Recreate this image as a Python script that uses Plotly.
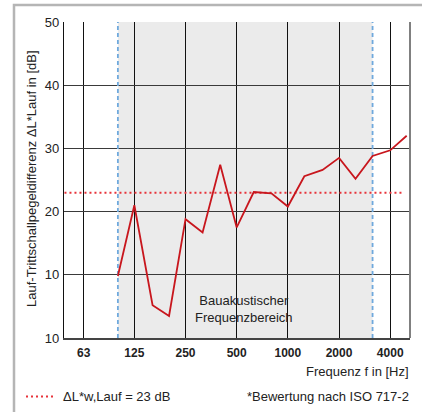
import math
import plotly.graph_objects as go

# Data
freqs = [100, 125, 160, 200, 250, 315, 400, 500, 630, 800, 1000, 1250, 1600, 2000, 2500, 3150, 4000, 5000]
delta_l = [9.8, 21.0, 5.2, 3.5, 18.8, 16.7, 27.4, 17.5, 23.1, 22.9, 20.8, 25.6, 26.6, 28.5, 25.2, 28.8, 29.7, 32.0]
ref_value = 23
ref_x = [48.5, 4760]
x_tickvals = [63, 125, 250, 500, 1000, 2000, 4000]
x_ticktext = ["63", "125", "250", "500", "1000", "2000", "4000"]
y_tickvals = [0, 10, 20, 30, 40, 50]
y_ticktext = ["10", "10", "20", "30", "40", "50"]
band_low, band_high = 100, 3150
band_label_freq = 555

FONT = "Liberation Sans, Arial, sans-serif"
W, H = 422, 412
PL, PR, PT, PB = 64, 410, 22, 338  # plot area in pixels


def fx(p):
    return p / W


def fy(p):
    return 1 - p / H


fig = go.Figure()

fig.add_trace(go.Scatter(x=ref_x, y=[ref_value, ref_value], mode="lines",
                         line=dict(color="#e8333a", width=2, dash="2px,3px"),
                         hoverinfo="skip", showlegend=False))
for f in (band_low, band_high):
    fig.add_trace(go.Scatter(x=[f, f], y=[0, 50], mode="lines",
                             line=dict(color="#6fa9dd", width=1.8, dash="4px,3px"),
                             hoverinfo="skip", showlegend=False))
fig.add_trace(go.Scatter(x=freqs, y=delta_l, mode="lines",
                         line=dict(color="#c8161d", width=1.8),
                         showlegend=False))

shapes = []
# outer light frame (only top and left edges fall inside the page)
shapes.append(dict(type="rect", xref="paper", yref="paper",
                   x0=fx(14), x1=1.1, y0=fy(5), y1=-0.1,
                   fillcolor="rgba(0,0,0,0)", line=dict(color="#b5b5b5", width=2.5),
                   layer="below"))
# shaded band (below grid)
shapes.append(dict(type="rect", xref="x", yref="paper",
                   x0=band_low, x1=band_high, y0=fy(PB), y1=fy(PT),
                   fillcolor="#ebebeb", line=dict(width=0), layer="below"))
# right frame
shapes.append(dict(type="line", xref="paper", yref="paper", x0=fx(PR), x1=fx(PR),
                   y0=fy(PB), y1=fy(PT), line=dict(color="#808080", width=2)))
# legend sample
shapes.append(dict(type="line", xref="paper", yref="paper",
                   x0=fx(26), x1=fx(55), y0=fy(396.5), y1=fy(396.5),
                   line=dict(color="#e8333a", width=2, dash="2px,3px")))

annotations = [
    dict(text="Bauakustischer<br>Frequenzbereich", xref="x", yref="y",
         x=math.log10(band_label_freq), y=4.6, showarrow=False,
         font=dict(family=FONT, size=13, color="#222"), align="center"),
    dict(text="Lauf-Trittschallpegeldifferenz ΔL*Lauf in [dB]", xref="paper", yref="paper",
         x=fx(32), y=fy(179), xanchor="center", yanchor="middle",
         textangle=-90, showarrow=False,
         font=dict(family=FONT, size=13, color="#222")),
    dict(text="Frequenz f in [Hz]", xref="paper", yref="paper",
         x=fx(411), y=fy(371), xanchor="right", yanchor="middle", showarrow=False,
         font=dict(family=FONT, size=13, color="#222")),
    dict(text="ΔL*w,Lauf = 23 dB", xref="paper", yref="paper",
         x=fx(61), y=fy(396.5), xanchor="left", yanchor="middle", showarrow=False,
         font=dict(family=FONT, size=13, color="#222")),
    dict(text="*Bewertung nach ISO 717-2", xref="paper", yref="paper",
         x=fx(411), y=fy(396.5), xanchor="right", yanchor="middle", showarrow=False,
         font=dict(family=FONT, size=13, color="#222")),
]

fig.update_layout(
    width=W, height=H,
    margin=dict(l=0, r=0, t=0, b=0, pad=0),
    paper_bgcolor="white", plot_bgcolor="white",
    shapes=shapes, annotations=annotations,
    showlegend=False,
    font=dict(family=FONT, color="#222"),
)
fig.update_xaxes(type="log", range=[math.log10(48.2), math.log10(5230)],
                 domain=[fx(PL), fx(PR)],
                 tickvals=x_tickvals, ticktext=x_ticktext,
                 showgrid=True, gridcolor="#111", gridwidth=1,
                 showline=True, linecolor="#444", linewidth=1.5,
                 ticks="", ticklabelstandoff=3, automargin=False,
                 tickfont=dict(family=FONT, size=12, color="#222", weight="bold"),
                 zeroline=False)
fig.update_yaxes(range=[0, 50], domain=[fy(PB), fy(PT)],
                 tickvals=y_tickvals, ticktext=y_ticktext,
                 showgrid=True, gridcolor="#3a3a3a", gridwidth=1,
                 showline=True, linecolor="#111", linewidth=1.2,
                 ticks="", ticklabelstandoff=1, automargin=False,
                 tickfont=dict(family=FONT, size=13, color="#222"),
                 zeroline=False)

fig.write_html("out.html", config={"displayModeBar": False},
               post_script="document.body.style.margin='0';")
